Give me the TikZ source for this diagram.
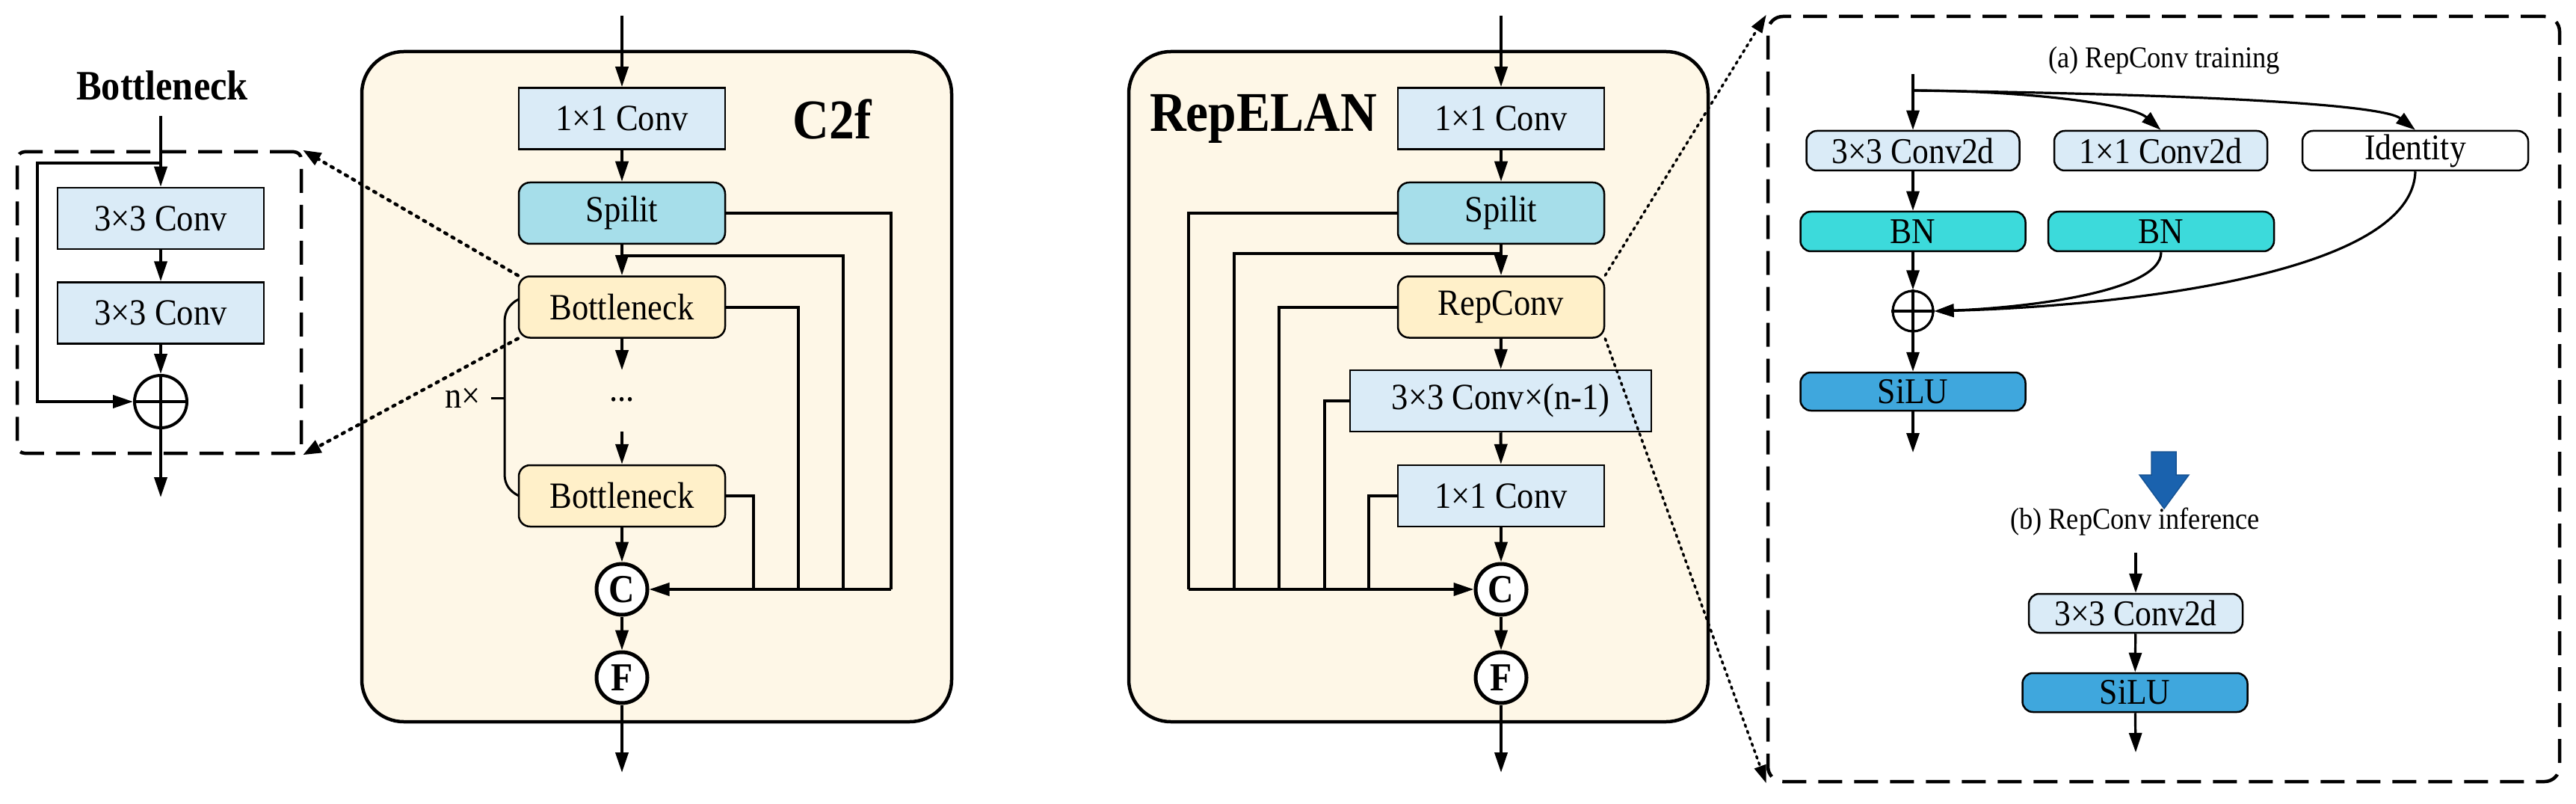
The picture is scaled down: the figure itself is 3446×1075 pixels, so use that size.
\documentclass[tikz,border=0pt]{standalone}
\usepackage{fontspec}
\setmainfont{Liberation Serif}[FakeStretch=0.9]
\usetikzlibrary{arrows.meta,calc}
\definecolor{cream}{HTML}{FEF7E7}
\definecolor{convblue}{HTML}{DAEBF7}
\definecolor{splitc}{HTML}{A6DEEA}
\definecolor{bneckc}{HTML}{FFF0C9}
\definecolor{bnc}{HTML}{3CDADB}
\definecolor{siluc}{HTML}{3FA7DD}
\definecolor{bluearr}{HTML}{1A62AE}
\newcommand\myfs[1]{\fontsize{#1}{#1}\selectfont}
\begin{document}
\begin{tikzpicture}[x=1pt,y=-1pt,
  ln/.style={line width=4pt},
  arr/.style={line width=4pt,-{Triangle[length=27pt,width=17pt]}},
  tln/.style={line width=3.2pt},
  tarr/.style={line width=3.2pt,-{Triangle[length=26pt,width=17pt]}},
  box/.style={draw,line width=2.5pt,minimum width=276pt,minimum height=82pt,inner sep=0pt,font=\myfs{49.5}},
  conv/.style={box,fill=convblue},
  splitbox/.style={box,fill=splitc,rounded corners=15pt},
  bneck/.style={box,fill=bneckc,rounded corners=15pt},
  cf/.style={draw,circle,line width=5pt,minimum size=68pt,inner sep=0pt,fill=white,font=\myfs{53}\bfseries},
  panel/.style={draw,line width=4.5pt,fill=cream,rounded corners=56pt,inner sep=0pt},
  dbox/.style={draw,line width=4.5pt,dash pattern=on 32pt off 16pt,rounded corners=10pt,inner sep=0pt},
  dotarr/.style={line width=4.5pt,dash pattern=on 3pt off 8pt,line cap=round,-{Triangle[length=24pt,width=18pt]}},
  dotarrb/.style={line width=3.5pt,dash pattern=on 3pt off 6pt,line cap=round,-{Triangle[length=24pt,width=16pt]}},
  rbox/.style={draw,line width=2.5pt,rounded corners=14pt,minimum height=53pt,inner sep=0pt,font=\myfs{48.5}},
]
\useasboundingbox (0,0) rectangle (3446,1075);

% ---------------- Bottleneck (left) ----------------
\node[font=\myfs{56}\bfseries] (btitle) at (217,114) {Bottleneck};
\node[dbox,minimum width=380pt,minimum height=403pt] (bdash) at (213,404.5) {};
\node[conv] (ba) at (215,292) {3×3 Conv};
\node[conv] (bb) at (215,418.5) {3×3 Conv};
\node[draw,circle,line width=4pt,minimum size=70pt,inner sep=0pt] (bplus) at (215,537) {};
\coordinate (bin) at (215,155);
\coordinate (bout) at (215,665);
\coordinate (bsplit) at (215,218);
\coordinate (bleft) at (50,218);
\draw[arr] (bin) -- (ba);
\draw[arr] (ba) -- (bb);
\draw[arr] (bb) -- (bplus.north);
\draw[ln] (bplus.north) -- (bplus.south) (bplus.west) -- (bplus.east);
\draw[arr] (bplus.south) -- (bout);
\draw[arr] (bsplit) -- (bleft) |- (bplus.west);

% ---------------- C2f ----------------
\node[panel,minimum width=789pt,minimum height=896pt] (c2p) at (878.5,517) {};
\node[font=\myfs{75}\bfseries] (c2t) at (1113,159) {C2f};
\node[conv] (c1) at (832,158.5) {1×1 Conv};
\node[splitbox] (s1) at (832,285) {Spilit};
\node[bneck] (b1) at (832,410.5) {Bottleneck};
\node[font=\myfs{49.5}] (dots1) at (832,534) {...};
\node[bneck] (b2) at (832,663) {Bottleneck};
\node[cf] (cc1) at (832,788) {C};
\node[cf] (ff1) at (832,906) {F};
\coordinate (c2in) at (832,21);
\coordinate (c2out) at (832,1033);
\coordinate (c2br) at (832,342);
\coordinate (c2d1) at (832,495);
\coordinate (c2d2) at (832,577);
\coordinate (c2j1) at (1192,788);
\coordinate (c2j2) at (1128,788);
\coordinate (c2j3) at (1068,788);
\coordinate (c2j4) at (1008,788);
\draw[arr] (c2in) -- (c1);
\draw[arr] (c1) -- (s1);
\draw[arr] (s1) -- (b1);
\draw[arr] (b1) -- (c2d1);
\draw[arr] (c2d2) -- (b2);
\draw[arr] (b2) -- (cc1);
\draw[arr] (cc1) -- (ff1);
\draw[arr] (ff1) -- (c2out);
\draw[ln] (s1.east) -| (c2j1);
\draw[ln] (c2br) -| (c2j2);
\draw[ln] (b1.east) -| (c2j3);
\draw[ln] (b2.east) -| (c2j4);
\draw[arr] (c2j1) -- (cc1.east);
% n x bracket
\draw[line width=3pt] (694,400) .. controls (682,406) and (675,416) .. (675,430) -- (675,634) .. controls (675,648) and (682,657) .. (694,663);
\draw[line width=3pt] (657,532) -- (675,532);
\node[font=\myfs{49.5},anchor=east] (nx) at (646,532) {n×};

% dotted links to Bottleneck detail
\draw[dotarr] (b1.north west) -- (bdash.north east);
\draw[dotarr] (b1.south west) -- (bdash.south east);

% ---------------- RepELAN ----------------
\node[panel,minimum width=775pt,minimum height=896pt] (rp) at (1897.5,517) {};
\node[font=\myfs{75}\bfseries] (rt) at (1690,159) {RepELAN};
\node[conv] (r1) at (2008,158.5) {1×1 Conv};
\node[splitbox] (s2) at (2008,285) {Spilit};
\node[bneck] (rc) at (2008,410.5) {RepConv};
\node[conv,minimum width=403pt] (r3) at (2007.5,536) {3×3 Conv×(n-1)};
\node[conv] (r4) at (2008,663) {1×1 Conv};
\node[cf] (cc2) at (2008,788) {C};
\node[cf] (ff2) at (2008,906) {F};
\coordinate (rin) at (2008,21);
\coordinate (rout) at (2008,1033);
\coordinate (rbr) at (2008,339);
\coordinate (rj1) at (1590,788);
\coordinate (rj2) at (1651,788);
\coordinate (rj3) at (1711,788);
\coordinate (rj4) at (1772,788);
\coordinate (rj5) at (1831,788);
\draw[arr] (rin) -- (r1);
\draw[arr] (r1) -- (s2);
\draw[arr] (s2) -- (rc);
\draw[arr] (rc) -- (r3);
\draw[arr] (r3) -- (r4);
\draw[arr] (r4) -- (cc2);
\draw[arr] (cc2) -- (ff2);
\draw[arr] (ff2) -- (rout);
\draw[ln] (s2.west) -| (rj1);
\draw[ln] (rbr) -| (rj2);
\draw[ln] (rc.west) -| (rj3);
\draw[ln] (r3.west) -| (rj4);
\draw[ln] (r4.west) -| (rj5);
\draw[arr] (rj1) -- (cc2.west);

% ---------------- RepConv detail ----------------
\node[dbox,minimum width=1059pt,minimum height=1023pt,rounded corners=20pt] (rdash) at (2894.5,533.5) {};
\draw[dotarrb] (rc.north east) -- (rdash.north west);
\draw[dotarrb] (rc.south east) -- (rdash.south west);

\node[font=\myfs{40.5}] (capa) at (2895,81) {(a) RepConv training};
\node[rbox,fill=convblue,minimum width=285pt] (k3) at (2559,201.5) {3×3 Conv2d};
\node[rbox,fill=convblue,minimum width=285pt] (k1) at (2890.5,201.5) {1×1 Conv2d};
\node[rbox,fill=white,minimum width=302pt] (idn) at (3231,201.5) {Identity};
\node[rbox,fill=bnc,minimum width=301pt] (bn1) at (2559,309.5) {BN};
\node[rbox,fill=bnc,minimum width=302pt] (bn2) at (2891,309.5) {BN};
\node[draw,circle,line width=3.2pt,minimum size=54pt,inner sep=0pt] (tplus) at (2559,416) {};
\node[rbox,fill=siluc,minimum width=301pt,minimum height=51pt] (sl1) at (2559,523.5) {SiLU};
\coordinate (tin) at (2559,99);
\coordinate (tbr) at (2559,121);
\coordinate (tout) at (2559,605);
\draw[tarr] (tin) -- (k3);
\draw[tarr] (tbr) .. controls (2700,121) and (2850,138) .. (k1.north);
\draw[tarr] (tbr) .. controls (3000,127) and (3190,142) .. (idn.north);
\draw[tarr] (k3) -- (bn1);
\draw[tarr] (bn1) -- (tplus.north);
\draw[tln] (tplus.north) -- (tplus.south) (tplus.west) -- (tplus.east);
\draw[tarr] (bn2.south) .. controls (2891,392) and (2700,412) .. (tplus.east);
\draw[tarr] (idn.south) .. controls (3227,370) and (2820,410) .. (tplus.east);
\draw[tarr] (tplus.south) -- (sl1);
\draw[tarr] (sl1) -- (tout);

% big blue arrow
\draw[fill=bluearr,draw=bluearr!85!black,line width=1.5pt] (2878,604) -- (2911,604) -- (2911,635) -- (2928,635) -- (2895,680) -- (2862,635) -- (2878,635) -- cycle;

\node[font=\myfs{40.5}] (capb) at (2856,698) {(b) RepConv inference};
\node[rbox,fill=convblue,minimum width=286pt,minimum height=52pt] (k3b) at (2857,820) {3×3 Conv2d};
\node[rbox,fill=siluc,minimum width=301pt,minimum height=52pt] (sl2) at (2856,926) {SiLU};
\coordinate (tin2) at (2857,739);
\coordinate (tout2) at (2857,1006);
\draw[tarr] (tin2) -- (k3b);
\draw[tarr] (k3b) -- (sl2);
\draw[tarr] (sl2) -- (tout2);
\end{tikzpicture}
\end{document}
